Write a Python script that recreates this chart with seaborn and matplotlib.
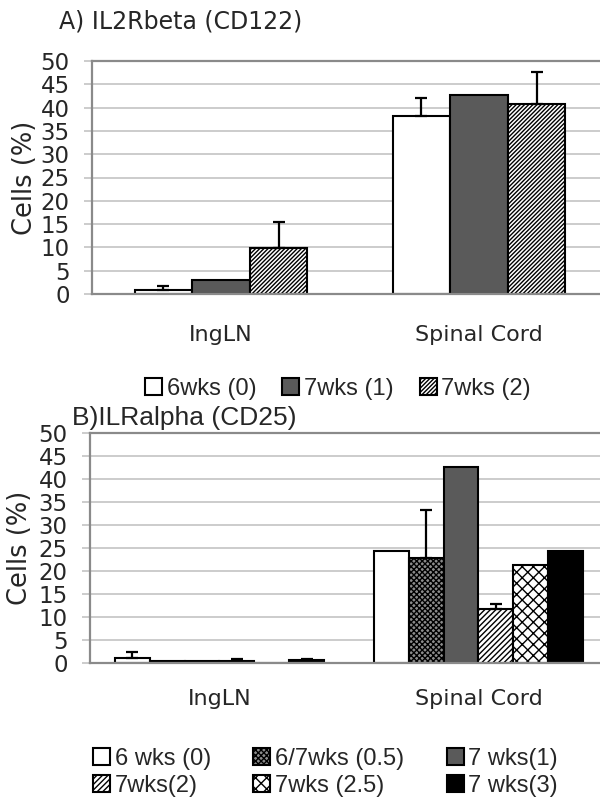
import matplotlib
matplotlib.use('Agg')
import matplotlib.pyplot as plt
import seaborn as sns
import pandas as pd
import numpy as np

# ---- data ----
tissues = ['IngLN', 'Spinal Cord']

a_groups = ['6wks (0)', '7wks (1)', '7wks (2)']
a_ingln = [0.8, 3.0, 9.9]
a_ingln_err = [1.0, 0.0, 5.5]
a_spinal = [38.2, 42.6, 40.7]
a_spinal_err = [3.8, 0.0, 6.9]

b_groups = ['6 wks (0)', '6/7wks (0.5)', '7 wks(1)', '7wks(2)', '7wks (2.5)', '7 wks(3)']
b_ingln = [1.1, 0.4, 0.4, 0.5, 0.1, 0.6]
b_ingln_err = [1.2, 0.0, 0.0, 0.4, 0.0, 0.3]
b_spinal = [24.3, 22.9, 42.6, 11.7, 21.2, 24.4]
b_spinal_err = [0.0, 10.3, 0.0, 1.2, 0.0, 0.0]

y_ticks = list(range(0, 55, 5))

a_colors = ['white', '#5a5a5a', 'white']
a_hatches = ['', '', '////////']
b_colors = ['white', '#8c8c8c', '#5a5a5a', 'white', 'white', 'black']
b_hatches = ['', 'xxxxxx', '', '//////', 'xxx', '']

sns.set_style('white')
plt.rcParams['font.family'] = ['DejaVu Sans']
plt.rcParams['hatch.linewidth'] = 1.0
GRID = '#c8c8c8'
SPINE = '#8a8a8a'


def make_df(groups, ingln, spinal):
    rows = []
    for g, v in zip(groups, ingln):
        rows.append({'tissue': tissues[0], 'group': g, 'value': v})
    for g, v in zip(groups, spinal):
        rows.append({'tissue': tissues[1], 'group': g, 'value': v})
    return pd.DataFrame(rows)


def draw_panel(ax, groups, ingln, spinal, ingln_err, spinal_err,
               colors, hatches, width, xpad):
    df = make_df(groups, ingln, spinal)
    sns.barplot(data=df, x='tissue', y='value', hue='group', order=tissues,
                hue_order=groups, palette=dict(zip(groups, colors)),
                saturation=1, width=width, gap=0, errorbar=None,
                edgecolor='black', linewidth=1.5, legend=False, ax=ax)
    bars = list(ax.containers)
    for cont, h in zip(bars, hatches):
        for p in cont.patches:
            p.set_hatch(h)
    # upper-only error bars
    for cont, e1, e2 in zip(bars, ingln_err, spinal_err):
        for p, e in zip(cont.patches, [e1, e2]):
            if e > 0:
                xc = p.get_x() + p.get_width() / 2
                ax.errorbar(xc, p.get_height(), yerr=[[0], [e]], fmt='none',
                            ecolor='black', elinewidth=1.6, capsize=4.5,
                            capthick=1.6, zorder=1)
    ax.set_xlim(-0.5, 1.5)
    ax.set_ylim(0, 50)
    ax.set_yticks(y_ticks)
    ax.yaxis.grid(True, color=GRID, lw=1.3)
    ax.set_axisbelow(True)
    ax.set_xlabel('')
    ax.set_ylabel('Cells (%)', fontsize=18.5)
    ax.set_xticks([0, 1])
    ax.set_xticklabels(tissues, fontsize=16)
    ax.set_xticks([-0.5, 0.5, 1.5], minor=True)
    ax.tick_params(axis='x', which='major', length=0, pad=xpad)
    ax.tick_params(axis='x', which='minor', length=5, color=SPINE, width=1.2)
    ax.tick_params(axis='y', length=6, color=GRID, width=1.3, pad=10,
                   labelsize=16.5, left=True)
    for s in ['top', 'left', 'bottom', 'right']:
        ax.spines[s].set_visible(True)
        ax.spines[s].set_color(SPINE)
        ax.spines[s].set_linewidth(1.6)
    return [c.patches[0] for c in bars]


fig = plt.figure(figsize=(6, 8.06), dpi=100)
fig.patch.set_facecolor('white')

ax_a = fig.add_axes([92 / 600, 1 - 294 / 806, 516 / 600, 233 / 806])
handles_a = draw_panel(ax_a, a_groups, a_ingln, a_spinal, a_ingln_err,
                       a_spinal_err, a_colors, a_hatches, 0.67, 22)
ax_a.yaxis.set_label_coords(-0.105, 0.5)

ax_b = fig.add_axes([90 / 600, 1 - 663 / 806, 518 / 600, 230 / 806])
handles_b = draw_panel(ax_b, b_groups, b_ingln, b_spinal, b_ingln_err,
                       b_spinal_err, b_colors, b_hatches, 0.81, 19)
ax_b.yaxis.set_label_coords(-0.11, 0.5)

fig.text(59 / 600, 1 - 22 / 806, 'A) IL2Rbeta (CD122)', fontsize=17,
         ha='left', va='center')
fig.text(72 / 600, 1 - 418 / 806, 'B)ILRalpha (CD25)', fontsize=19,
         family=['Liberation Sans', 'DejaVu Sans'], ha='left', va='center')

leg_font = {'family': ['Liberation Sans', 'DejaVu Sans'], 'size': 17}

fig.legend(handles_a, a_groups, loc='center', ncol=3,
           bbox_to_anchor=(338 / 600, 1 - 389 / 806), frameon=False,
           prop=leg_font, handlelength=0.72, handleheight=0.72,
           handletextpad=0.2, columnspacing=1.1, borderpad=0)

# legend fills column-major; reorder so the rows read like the reference
order = [0, 3, 1, 4, 2, 5]
fig.legend([handles_b[i] for i in order], [b_groups[i] for i in order],
           loc='upper left', ncol=3, bbox_to_anchor=(81 / 600, 1 - 736 / 806),
           frameon=False, prop=leg_font, handlelength=0.72, handleheight=0.72,
           handletextpad=0.2, columnspacing=1.8, borderpad=0,
           labelspacing=0.2)

fig.savefig('out.png', dpi=100, facecolor='white')
